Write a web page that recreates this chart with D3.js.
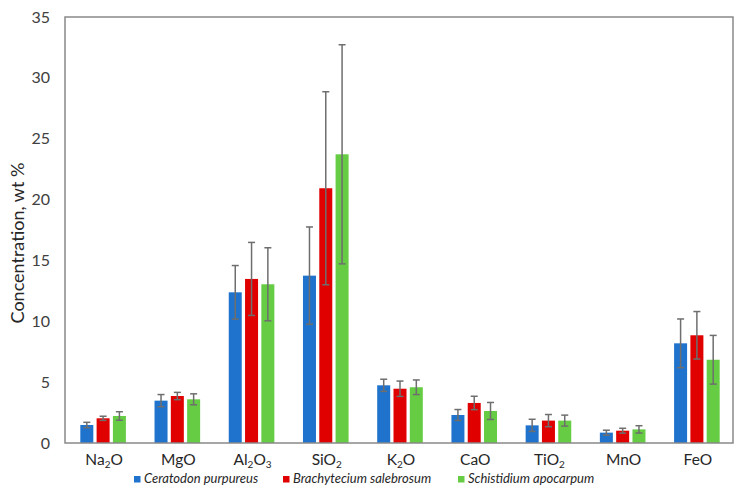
<!DOCTYPE html>
<html><head><meta charset="utf-8">
<script src="https://cdn.jsdelivr.net/npm/d3@7"></script>
<style>body{margin:0;background:#fff;}svg{display:block;font-family:Lato,"Open Sans",sans-serif;}</style>
</head><body><svg id="c" width="742" height="497"></svg>
<script>
const categoryNames = ["Na2O","MgO","Al2O3","SiO2","K2O","CaO","TiO2","MnO","FeO"];
const seriesNames = ["Ceratodon purpureus","Brachytecium salebrosum","Schistidium apocarpum"];
const ceratodon = [1.48, 3.48, 12.38, 13.75, 4.74, 2.30, 1.45, 0.85, 8.19];
const ceratodonErr = [0.22, 0.50, 2.2, 4.0, 0.50, 0.45, 0.50, 0.20, 2.0];
const brachytecium = [2.03, 3.86, 13.48, 20.93, 4.46, 3.29, 1.84, 1.01, 8.85];
const brachyteciumErr = [0.17, 0.30, 3.0, 7.93, 0.63, 0.55, 0.50, 0.20, 1.95];
const schistidium = [2.22, 3.59, 13.04, 23.72, 4.58, 2.63, 1.84, 1.12, 6.84];
const schistidiumErr = [0.35, 0.45, 3.0, 9.0, 0.60, 0.70, 0.45, 0.30, 2.0];
const yTicks = [0,5,10,15,20,25,30,35];
const colors = ["#1f73cc","#e00000","#66cc44"];

const series = [ceratodon, brachytecium, schistidium];
const errs = [ceratodonErr, brachyteciumErr, schistidiumErr];

const svg = d3.select("#c");
const m = {l:65, r:9, t:17, b:54};
const W = 742, H = 497;
const x = d3.scaleBand().domain(categoryNames).range([m.l, W-m.r]);
const y = d3.scaleLinear().domain([0,35]).range([H-m.b, m.t]);
const barW = 13, step = 16.3;
const xs = d3.scaleLinear().domain([0,2]).range([-step, step]);
const cxOf = (i, si) => x(categoryNames[i]) + x.bandwidth()/2 + 1 + xs(si);

series.forEach((s, si) => {
  svg.append("g").selectAll("rect").data(s).enter().append("rect")
    .attr("x", (d,i) => cxOf(i, si) - barW/2)
    .attr("width", barW)
    .attr("y", d => y(d))
    .attr("height", d => y(0) - y(d))
    .attr("fill", colors[si]);
});
series.forEach((s, si) => {
  const g = svg.append("g").attr("stroke", "#6e6e6e").attr("stroke-width", 1.5).attr("fill","none");
  s.forEach((v, i) => {
    const cx = cxOf(i, si);
    const e = errs[si][i];
    g.append("line").attr("x1", cx).attr("x2", cx).attr("y1", y(v+e)).attr("y2", y(v-e));
    g.append("line").attr("x1", cx-3.5).attr("x2", cx+3.5).attr("y1", y(v+e)).attr("y2", y(v+e));
    g.append("line").attr("x1", cx-3.5).attr("x2", cx+3.5).attr("y1", y(v-e)).attr("y2", y(v-e));
  });
});
svg.append("rect").attr("x", m.l).attr("y", m.t).attr("width", W-m.r-m.l).attr("height", H-m.b-m.t)
  .attr("fill","none").attr("stroke","#898989").attr("stroke-width",1.5);

const yAxis = d3.axisLeft(y).tickValues(yTicks).tickSize(0).tickPadding(15);
const ya = svg.append("g").attr("transform", `translate(${m.l},0)`).call(yAxis);
ya.select(".domain").remove();
ya.selectAll("text").attr("font-size", 16).attr("fill", "#404040").attr("font-family","Lato,sans-serif");

const xAxis = d3.axisBottom(x).tickSize(0).tickFormat("");
const xa = svg.append("g").attr("transform", `translate(0,${y(0)})`).call(xAxis);
xa.select(".domain").remove();
const labelParts = {"Na2O":[["Na",0],["2",1],["O",0]],"MgO":[["MgO",0]],"Al2O3":[["Al",0],["2",1],["O",0],["3",1]],
  "SiO2":[["SiO",0],["2",1]],"K2O":[["K",0],["2",1],["O",0]],"CaO":[["CaO",0]],"TiO2":[["TiO",0],["2",1]],"MnO":[["MnO",0]],"FeO":[["FeO",0]]};
categoryNames.forEach(c => {
  const t = svg.append("text").attr("x", x(c)+x.bandwidth()/2 + 2).attr("y", 465)
    .attr("text-anchor","middle").attr("font-size",15.5).attr("fill","#262626");
  let prevSub = 0;
  labelParts[c].forEach(([s, sub]) => {
    const ts = t.append("tspan").text(s);
    if (sub && !prevSub) ts.attr("font-size", 10).attr("dy", 2.5);
    else if (!sub && prevSub) ts.attr("dy", -2.5);
    else if (sub) ts.attr("font-size", 10);
    prevSub = sub;
  });
});

svg.append("text").attr("transform", `translate(24,243) rotate(-90)`)
  .attr("text-anchor","middle").attr("font-size",18).attr("fill","#262626").text("Concentration, wt %");

const legX = [134, 283, 458];
seriesNames.forEach((n, i) => {
  svg.append("rect").attr("x", legX[i]).attr("y", 476).attr("width", 6.5).attr("height", 6.5).attr("fill", colors[i]);
  svg.append("text").attr("x", legX[i]+10).attr("y", 482.5).attr("font-size", 13).attr("font-style","italic")
    .attr("fill","#262626").text(n);
});
</script></body></html>
